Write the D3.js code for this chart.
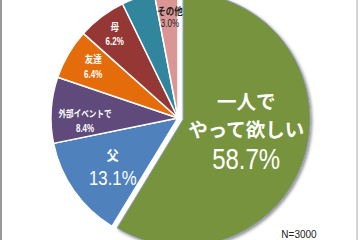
<!DOCTYPE html>
<html><head><meta charset="utf-8">
<script src="https://cdn.jsdelivr.net/npm/d3@7"></script>
<style>
html,body{margin:0;padding:0;background:#fff;overflow:hidden}
svg{display:block}
</style></head>
<body>
<script>
// ---- data ----
const categories = ["一人でやって欲しい", "父", "外部イベントで", "友達", "母", "その他の項目", "その他"];
const labelLines = [["一人で", "やって欲しい"], ["父"], ["外部イベントで"], ["友達"], ["母"], [], ["その他"]];
const values = [58.7, 13.1, 8.4, 6.4, 6.2, 4.2, 3.0];
const pctLabels = ["58.7%", "13.1%", "8.4%", "6.4%", "6.2%", "", "3.0%"];
const note = "N=3000";

// ---- style ----
const colors = ["#77933C", "#4F81BD", "#5F4A7B", "#E46C0A", "#953735", "#31859C", "#D99694"];
const W = 360, H = 240;
const cx = 178, cy = 118, R = 127;
const explode = [5.3, 0, 0, 0, 0, 0, 0];
const labelStyle = [
  {r: 64, nudge: -5.8, nameSize: 19.5, nameSx: 1.0, lineGap: 28.5, pctSize: 30, nameOff: -28.5, pctOff: 28, fill: "#fff", pctBold: false},
  {r: 81, nudge: -1.3, nameSize: 14, nameSx: 0.85, lineGap: 0, pctSize: 21, nameOff: -11, pctOff: 11, fill: "#fff", pctBold: false},
  {r: 93, nudge: -5.5, nameSize: 9.5, nameSx: 0.8, lineGap: 0, pctSize: 10, nameOff: -7.5, pctOff: 7.5, fill: "#fff", pctBold: true},
  {r: 99, nudge: 0.8, nameSize: 10, nameSx: 0.85, lineGap: 0, pctSize: 10, nameOff: -7, pctOff: 7, fill: "#fff", pctBold: true},
  {r: 105, nudge: 0, nameSize: 10, nameSx: 0.85, lineGap: 0, pctSize: 10, nameOff: -7, pctOff: 7, fill: "#fff", pctBold: true},
  null,
  {r: 101, nudge: 0.8, nameSize: 10, nameSx: 0.85, lineGap: 0, pctSize: 10, nameOff: -6, pctOff: 6, fill: "#222", pctBold: false}
];
const pctSx = 0.8;

const svg = d3.select("body").append("svg").attr("width", W).attr("height", H);
const defs = svg.append("defs");
const f = defs.append("filter").attr("id", "sh").attr("x", "-20%").attr("y", "-20%").attr("width", "140%").attr("height", "140%");
f.append("feDropShadow").attr("dx", 1.5).attr("dy", 1.5).attr("stdDeviation", 1.5)
  .attr("flood-color", "#000").attr("flood-opacity", 0.45);

svg.append("rect").attr("width", W).attr("height", H).attr("fill", "#fff");

const pie = d3.pie().sort(null).value(d => d);
const arcs = pie(values);
const arc = d3.arc().innerRadius(0).outerRadius(R);

const g = svg.append("g").attr("transform", `translate(${cx},${cy})`);

function offsetOf(d, i) {
  const a = (d.startAngle + d.endAngle) / 2;
  return [Math.sin(a) * explode[i], -Math.cos(a) * explode[i]];
}

const order = arcs.map((d, i) => i).sort((a, b) => explode[a] - explode[b]);
order.forEach(i => {
  const d = arcs[i];
  const [ox, oy] = offsetOf(d, i);
  g.append("path")
    .attr("d", arc(d))
    .attr("transform", `translate(${ox},${oy})`)
    .attr("fill", colors[i])
    .attr("stroke", explode[i] ? "#8a9bb3" : "#fff")
    .attr("stroke-width", explode[i] ? 1 : 1.5)
    .attr("stroke-linejoin", "round")
    .attr("filter", explode[i] ? "url(#sh)" : null);
});

arcs.forEach((d, i) => {
  const s = labelStyle[i];
  if (!s) return;
  const [ox, oy] = offsetOf(d, i);
  const a = (d.startAngle + d.endAngle) / 2 + s.nudge * Math.PI / 180;
  const x = ox + Math.sin(a) * s.r, y = oy - Math.cos(a) * s.r;
  const lg = g.append("g").attr("transform", `translate(${x},${y})`)
    .attr("fill", s.fill).attr("text-anchor", "middle");
  const nt = lg.append("text").attr("transform", `translate(0,${s.nameOff}) scale(${s.nameSx},1)`)
    .attr("font-family", "'Noto Sans CJK JP', sans-serif")
    .attr("font-weight", "bold").attr("font-size", s.nameSize);
  labelLines[i].forEach((t, k) => {
    nt.append("tspan").attr("x", 0).attr("y", k * s.lineGap).attr("dy", "0.35em").text(t);
  });
  lg.append("text").attr("transform", `translate(0,${s.pctOff}) scale(${pctSx},1)`)
    .attr("dy", "0.36em")
    .attr("font-family", "'Liberation Sans', Arial, sans-serif")
    .attr("font-weight", s.pctBold ? "bold" : "normal")
    .attr("font-size", s.pctSize).text(pctLabels[i]);
});

svg.append("text").attr("x", 299).attr("y", 238)
  .attr("text-anchor", "middle")
  .attr("font-family", "'Liberation Sans', Arial, sans-serif")
  .attr("font-size", 10).attr("fill", "#222").text(note);

svg.append("line").attr("x1", 1).attr("x2", 1).attr("y1", 0).attr("y2", H).attr("stroke", "#999").attr("stroke-width", 2);
svg.append("line").attr("x1", 357).attr("x2", 357).attr("y1", 0).attr("y2", H).attr("stroke", "#aaa").attr("stroke-width", 1);
</script>
</body></html>
